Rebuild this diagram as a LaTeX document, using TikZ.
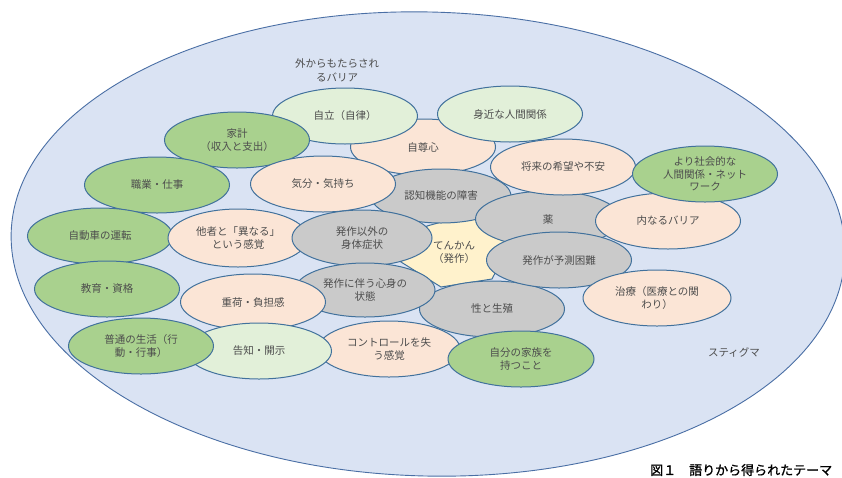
\documentclass[tikz,border=0pt]{standalone}
\usepackage{fontspec}
\setmainfont{Noto Sans CJK JP}
\newfontfamily\capfont{Noto Sans CJK JP}[FakeBold=1.2]
\usetikzlibrary{shapes.geometric}
\definecolor{outerfill}{HTML}{DAE3F3}
\definecolor{outerline}{HTML}{4A6FA5}
\definecolor{bord}{HTML}{41719C}
\definecolor{dg}{HTML}{A9D18E}
\definecolor{lg}{HTML}{E2F0D9}
\definecolor{pe}{HTML}{FBE5D6}
\definecolor{gr}{HTML}{CACACA}
\definecolor{ye}{HTML}{FFF2CC}
\definecolor{txt}{HTML}{4D4D4D}
\tikzset{
  bub/.style={ellipse, draw=bord, line width=1pt, minimum width=145pt, minimum height=56pt,
    inner sep=0pt, align=center, text=txt, font=\fontsize{10.5}{13}\selectfont},
  dgb/.style={bub, fill=dg},
  lgb/.style={bub, fill=lg},
  peb/.style={bub, fill=pe},
  grb/.style={bub, fill=gr},
  lbl/.style={align=center, text=txt, inner sep=0pt, font=\fontsize{10.5}{14}\selectfont},
}
\begin{document}
\begin{tikzpicture}[x=1pt,y=-1pt]
\useasboundingbox (0,0) rectangle (842,477);
\fill[white] (0,0) rectangle (842,477);
\node[ellipse, draw=outerline, fill=outerfill, line width=0.9pt, minimum width=834pt, minimum height=464pt, inner sep=0pt, rotate=-1.5] (outer) at (428,244) {};
\node[lbl] (outlbl) at (337,70) {外からもたらされ\\るバリア};
\node[lbl] (stigma) at (734,352) {スティグマ};
% hexagon (epilepsy)
\draw[fill=ye, draw=bord, line width=1pt] (427,226) -- (478,212) -- (512,240) -- (492,279) -- (441,287) -- (401,262) -- cycle;
\node[peb] (jison) at (423,147) {自尊心};
\node[lgb] (jiritsu) at (345,116) {自立（自律）};
\node[lgb] (mijika) at (510,114) {身近な人間関係};
\node[dgb] (kakei) at (237,140) {家計\\（収入と支出）};
\node[dgb] (shokugyo) at (157,185) {職業・仕事};
\node[grb, minimum width=140pt, minimum height=54pt] (ninchi) at (441,196) {認知機能の障害};
\node[peb] (kibun) at (323,184) {気分・気持ち};
\node[grb] (kusuri) at (548,219) {薬};
\node[peb] (shorai) at (563,167) {将来の希望や不安};
\node[peb] (uchi) at (668,221) {内なるバリア};
\node[dgb, font=\fontsize{10.5}{12.3}\selectfont] (shakai) at (705,174) {より社会的な\\人間関係・ネット\\ワーク};
\node[dgb] (jidosha) at (100,236) {自動車の運転};
\node[peb, minimum width=140pt, minimum height=58pt] (tasha) at (238,238) {他者と「異なる」\\という感覚};
\node[text=txt, align=center, inner sep=0pt, font=\fontsize{10.5}{13}\selectfont] (tenkan) at (454,252) {てんかん\\（発作）};
\node[grb, minimum width=140pt] (igai) at (362,238) {発作以外の\\身体症状};
\node[grb] (sei) at (492,309) {性と生殖};
\node[grb, minimum width=140pt, minimum height=54pt] (tomonau) at (365,290) {発作に伴う心身の\\状態};
\node[grb] (yosoku) at (559,260) {発作が予測困難};
\node[peb, minimum width=148pt] (chiryo) at (657,298) {治療（医療との関\\わり）};
\node[dgb] (kyoiku) at (107,289) {教育・資格};
\node[peb] (omoni) at (253,302) {重荷・負担感};
\node[peb, minimum width=142pt] (control) at (389,349) {コントロールを失\\う感覚};
\node[lgb] (kokuchi) at (259,351) {告知・開示};
\node[dgb] (futsu) at (141,346) {普通の生活（行\\動・行事）};
\node[dgb, minimum width=146pt] (kazoku) at (521,359) {自分の家族を\\持つこと};
\node[anchor=west, inner sep=0pt, font=\capfont\fontsize{13}{13}\selectfont] (caption) at (650,470) {図１　語りから得られたテーマ};
\end{tikzpicture}
\end{document}
